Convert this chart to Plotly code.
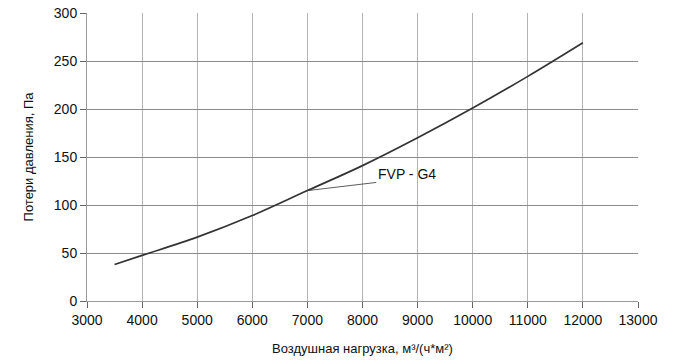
import plotly.graph_objects as go

airflow = [3500, 4000, 5000, 6000, 7000, 8000, 9000, 10000, 11000, 12000]
pressure = [38, 47.5, 66.5, 89, 115, 141, 170, 201, 234, 269]

label_text = "FVP - G4"
label_line_x = [7000, 8250]
label_line_y = [115, 123.5]

fig = go.Figure()
fig.add_trace(go.Scatter(x=airflow, y=pressure, mode="lines",
                         line=dict(color="#333333", width=1.7, shape="spline"),
                         hoverinfo="skip", showlegend=False))
fig.add_trace(go.Scatter(x=label_line_x, y=label_line_y, mode="lines",
                         line=dict(color="#333333", width=0.8),
                         hoverinfo="skip", showlegend=False))
fig.add_annotation(x=label_line_x[1], y=label_line_y[1], text=label_text,
                   showarrow=False, xanchor="left", yanchor="bottom",
                   xshift=0, yshift=-2,
                   font=dict(family="Liberation Sans, Arial", size=14, color="#111111"))

axis_common = dict(showline=True, linecolor="#999999", linewidth=1,
                   ticks="outside", ticklen=6, tickcolor="#666666",
                   tickfont=dict(family="Liberation Sans, Arial", size=14, color="#111111"),
                   zeroline=False, mirror=False, automargin=False, tickformat="d")

fig.update_xaxes(range=[3000, 13000], dtick=1000, tick0=3000,
                 showgrid=True, gridcolor="#b3b3b3", gridwidth=1,
                 title=dict(text="Воздушная нагрузка, м³/(ч*м²)",
                            font=dict(family="Liberation Sans, Arial", size=13, color="#111111"),
                            standoff=17),
                 **axis_common)
fig.update_yaxes(range=[0, 300], dtick=50,
                 showgrid=True, gridcolor="#8c8c8c", gridwidth=1,
                 title=dict(text="Потери давления, Па",
                            font=dict(family="Liberation Sans, Arial", size=13, color="#111111"),
                            standoff=17),
                 **axis_common)

fig.update_layout(width=700, height=362,
                  margin=dict(l=87, r=62, t=13, b=61),
                  plot_bgcolor="white", paper_bgcolor="white")

fig.write_html("out.html", config={"displayModeBar": False},
               post_script="document.body.style.margin='0';document.body.style.overflow='hidden';")
